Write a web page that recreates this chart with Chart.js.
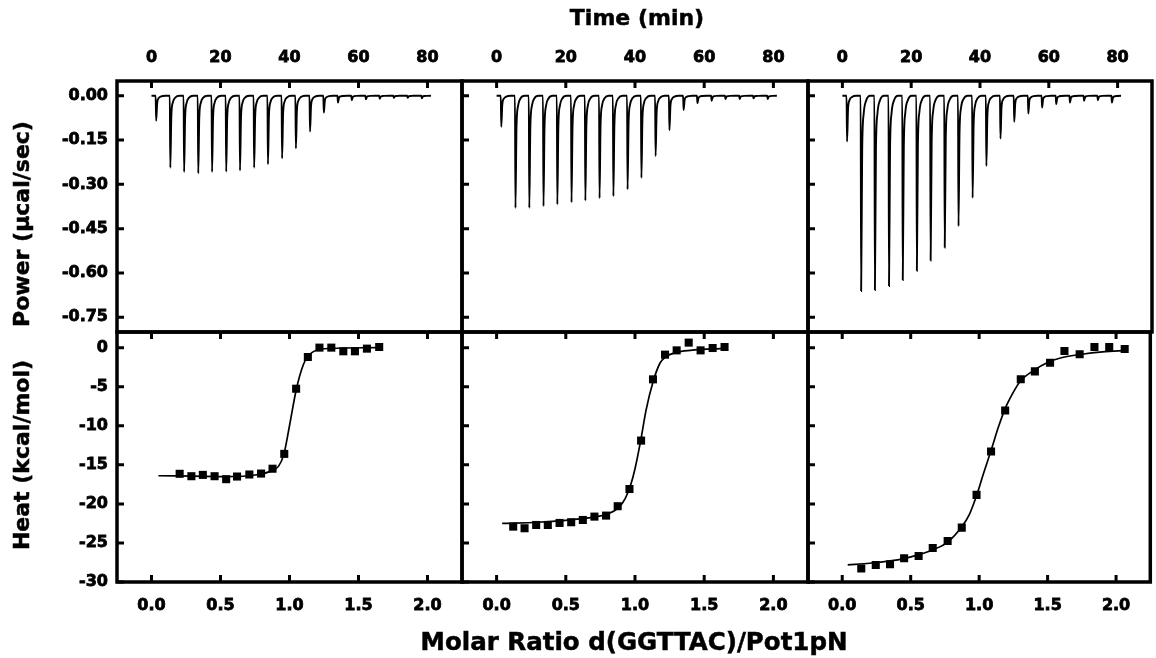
<!DOCTYPE html>
<html>
<head>
<meta charset="utf-8">
<script src="https://cdn.jsdelivr.net/npm/chart.js@4.4.0/dist/chart.umd.min.js"></script>
<style>
  html, body { margin:0; padding:0; background:#fff; width:1156px; height:658px; overflow:hidden; }
  #wrap { position:relative; width:1156px; height:658px; }
  canvas.panel { position:absolute; left:0; top:0; }
  .t { position:absolute; font-family:"DejaVu Sans", sans-serif; font-weight:bold; color:#000; white-space:nowrap; line-height:1; transform:translate(-50%,-50%); -webkit-text-stroke:0.5px #000; }
  .rot { transform:translate(-50%,-50%) rotate(-90deg); }
</style>
</head>
<body>
<div id="wrap">
  <canvas class="panel" id="p0" width="1156" height="658"></canvas>
  <canvas class="panel" id="p1" width="1156" height="658"></canvas>
  <canvas class="panel" id="p2" width="1156" height="658"></canvas>
  <canvas class="panel" id="p3" width="1156" height="658"></canvas>
  <canvas class="panel" id="p4" width="1156" height="658"></canvas>
  <canvas class="panel" id="p5" width="1156" height="658"></canvas>
  <div class="t" style="left:637px; top:18px; font-size:22px;">Time (min)</div>
  <div class="t" style="left:634px; top:642px; font-size:24.5px;">Molar Ratio d(GGTTAC)/Pot1pN</div>
  <div class="t rot" style="left:22px; top:224px; font-size:22px;">Power (µcal/sec)</div>
  <div class="t rot" style="left:22px; top:455px; font-size:22px;">Heat (kcal/mol)</div>
</div>
<script>
// ---------- tick labels ----------
const timeTicks  = [0, 20, 40, 60, 80];
const powerTicks = [0, -0.15, -0.30, -0.45, -0.60, -0.75];
const ratioTicks = [0, 0.5, 1.0, 1.5, 2.0];
const heatTicks  = [0, -5, -10, -15, -20, -25, -30];

// ---------- raw ITC traces (injection times in min, peak minima in µcal/sec) ----------
const injectionTimes = [1.2, 5.3, 9.3, 13.4, 17.4, 21.5, 25.5, 29.6, 33.6, 37.7, 41.7, 45.8, 49.8, 53.9, 57.9, 62.0, 66.0, 70.1, 74.1, 78.2];
const traceEnd = 81;
const peaksA = [-0.085, -0.244, -0.258, -0.263, -0.258, -0.257, -0.253, -0.244, -0.232, -0.212, -0.178, -0.121, -0.057, -0.023, -0.015, -0.012, -0.010, -0.007, -0.007, -0.009];
const peaksB = [-0.105, -0.380, -0.380, -0.374, -0.368, -0.361, -0.355, -0.347, -0.340, -0.317, -0.278, -0.204, -0.117, -0.048, -0.025, -0.017, -0.011, -0.011, -0.009, -0.011];
const peaksC = [-0.155, -0.661, -0.658, -0.644, -0.624, -0.593, -0.558, -0.514, -0.442, -0.346, -0.238, -0.145, -0.088, -0.060, -0.040, -0.028, -0.023, -0.017, -0.015, -0.023];
// peak outline: time offset after injection (min) and share of the peak minimum
const peakOffsets   = [0, 0.15, 0.45, 0.9, 1.6, 2.8];
const peakFractions = [0, 1, 0.28, 0.09, 0.025, 0];

// ---------- integrated heats (molar ratio, kcal/mol) ----------
const ratioA = [0.204, 0.289, 0.372, 0.457, 0.541, 0.620, 0.709, 0.794, 0.877, 0.962, 1.048, 1.133, 1.217, 1.303, 1.390, 1.474, 1.561, 1.650];
const heatA  = [-16.15, -16.46, -16.29, -16.46, -16.84, -16.50, -16.24, -16.12, -15.50, -13.60, -5.26, -1.20, 0.00, 0.00, -0.47, -0.47, -0.13, 0.08];
const ratioB = [0.120, 0.202, 0.286, 0.370, 0.455, 0.539, 0.623, 0.707, 0.791, 0.875, 0.960, 1.044, 1.130, 1.217, 1.301, 1.388, 1.474, 1.561, 1.647];
const heatB  = [-22.91, -23.12, -22.70, -22.70, -22.44, -22.35, -22.06, -21.63, -21.50, -20.30, -18.10, -11.90, -4.06, -0.90, -0.35, 0.64, -0.35, -0.05, 0.08];
const ratioC = [0.139, 0.245, 0.349, 0.452, 0.558, 0.661, 0.770, 0.873, 0.981, 1.087, 1.190, 1.304, 1.407, 1.518, 1.623, 1.734, 1.842, 1.950, 2.063];
const heatC  = [-28.26, -27.82, -27.74, -26.97, -26.67, -25.64, -24.75, -23.04, -18.85, -13.29, -8.04, -4.06, -3.04, -1.93, -0.43, -0.86, 0.08, 0.08, -0.17];

// ---------- fitted curves ----------
const fitRatioA = [0.05, 0.30, 0.55, 0.75, 0.85, 0.92, 0.96, 1.00, 1.05, 1.10, 1.13, 1.20, 1.30, 1.65];
const fitHeatA  = [-16.4, -16.45, -16.5, -16.3, -15.9, -15.2, -13.6, -10.0, -5.3, -2.2, -1.2, -0.3, -0.1, 0.0];
const fitRatioB = [0.04, 0.30, 0.50, 0.70, 0.80, 0.88, 0.93, 0.97, 1.00, 1.04, 1.08, 1.13, 1.18, 1.22, 1.30, 1.40, 1.65];
const fitHeatB  = [-22.5, -22.35, -22.1, -21.7, -21.3, -20.5, -19.3, -17.5, -15.5, -12.0, -8.0, -4.4, -2.0, -1.2, -0.6, -0.35, -0.1];
const fitRatioC = [0.04, 0.20, 0.35, 0.45, 0.56, 0.66, 0.77, 0.87, 0.93, 0.98, 1.03, 1.09, 1.14, 1.19, 1.25, 1.30, 1.40, 1.50, 1.60, 1.75, 1.90, 2.08];
const fitHeatC  = [-27.8, -27.6, -27.3, -27.0, -26.5, -25.9, -24.9, -23.0, -21.3, -19.0, -16.2, -13.0, -10.2, -7.8, -5.7, -4.3, -2.9, -1.9, -1.3, -0.85, -0.55, -0.35];

// ---------- build tables ----------
function traceTable(peaks) {
  const pts = [{x: 0, y: 0}];
  injectionTimes.forEach((t, i) => {
    peakOffsets.forEach((o, k) => pts.push({x: t + o, y: peaks[i] * peakFractions[k]}));
  });
  pts.push({x: traceEnd, y: 0});
  return pts;
}
const pairs = (xs, ys) => xs.map((x, i) => ({x, y: ys[i]}));

// ---------- layout ----------
const colX = [117, 462, 808, 1152];
const rowY = [81, 332, 582];
const W = 1156, H = 658;

Chart.defaults.font.family = '"DejaVu Sans", sans-serif';
Chart.defaults.font.weight = 'bold';
Chart.defaults.font.size = 16;
Chart.defaults.color = '#000';

const framePlugin = {
  id: 'frame',
  afterDraw(chart, args, opts) {
    const {ctx, chartArea: a, scales} = chart;
    const L = 7;
    ctx.save();
    ctx.strokeStyle = '#000';
    ctx.lineWidth = 3;
    ctx.beginPath();
    scales.x.ticks.forEach(t => {
      const px = scales.x.getPixelForValue(t.value);
      ctx.moveTo(px, a.top); ctx.lineTo(px, a.top + L);
      if (opts.bottomTicks) { ctx.moveTo(px, a.bottom); ctx.lineTo(px, a.bottom - L); }
    });
    scales.y.ticks.forEach(t => {
      const py = scales.y.getPixelForValue(t.value);
      ctx.moveTo(a.left, py); ctx.lineTo(a.left + L, py);
    });
    ctx.stroke();
    ctx.lineWidth = 3.5;
    ctx.strokeRect(a.left, a.top, a.right - a.left, a.bottom - a.top);
    ctx.restore();
  }
};

function makePanel(id, row, col, datasets) {
  const top = rowY[row], bottom = rowY[row + 1];
  const left = colX[col], right = colX[col + 1];
  const yW = col === 0 ? 60 : 0;
  const xH = 50;
  const isTop = row === 0;
  const xTicks = isTop ? timeTicks : ratioTicks;
  const yTicks = isTop ? powerTicks : heatTicks;
  new Chart(document.getElementById(id), {
    type: 'scatter',
    data: { datasets },
    options: {
      responsive: false,
      animation: false,
      events: [],
      layout: { padding: {
        left: left - yW,
        right: W - right,
        top: isTop ? top - xH : top,
        bottom: isTop ? H - bottom : H - bottom - xH
      }},
      plugins: { legend: {display: false}, tooltip: {enabled: false}, frame: { bottomTicks: !isTop } },
      scales: {
        x: {
          type: 'linear',
          position: isTop ? 'top' : 'bottom',
          min: isTop ? -10 : -0.25,
          max: isTop ? 90 : 2.25,
          grid: { display: false, drawTicks: false },
          border: { display: false },
          afterBuildTicks: s => { s.ticks = xTicks.map(v => ({value: v})); },
          afterFit: s => { s.height = xH; },
          ticks: {
            autoSkip: false, maxRotation: 0,
            padding: 14,
            textStrokeColor: '#000', textStrokeWidth: 0.8,
            callback: v => isTop ? String(v) : Number(v).toFixed(1)
          }
        },
        y: {
          type: 'linear',
          position: 'left',
          min: isTop ? -0.80 : -30,
          max: isTop ? 0.05 : 2,
          grid: { display: false, drawTicks: false },
          border: { display: false },
          afterBuildTicks: s => { s.ticks = yTicks.map(v => ({value: v})); },
          afterFit: s => { s.width = yW; },
          ticks: {
            display: col === 0,
            autoSkip: false,
            padding: 9,
            textStrokeColor: '#000', textStrokeWidth: 0.8,
            callback: v => isTop ? Number(v).toFixed(2) : String(v)
          }
        }
      }
    },
    plugins: [framePlugin]
  });
}

function traceSet(peaks) {
  return [{
    data: traceTable(peaks), showLine: true, borderColor: '#000', borderWidth: 1.9,
    pointRadius: 0, cubicInterpolationMode: 'monotone'
  }];
}
function heatSets(rx, hy, fx, fy) {
  return [
    { data: pairs(fx, fy), showLine: true, borderColor: '#000', borderWidth: 1.7, pointRadius: 0, cubicInterpolationMode: 'monotone' },
    { data: pairs(rx, hy), showLine: false, pointStyle: 'rect', pointRadius: 5.7, backgroundColor: '#000', borderColor: '#000', borderWidth: 0 }
  ];
}

makePanel('p0', 0, 0, traceSet(peaksA));
makePanel('p1', 0, 1, traceSet(peaksB));
makePanel('p2', 0, 2, traceSet(peaksC));
makePanel('p3', 1, 0, heatSets(ratioA, heatA, fitRatioA, fitHeatA));
makePanel('p4', 1, 1, heatSets(ratioB, heatB, fitRatioB, fitHeatB));
makePanel('p5', 1, 2, heatSets(ratioC, heatC, fitRatioC, fitHeatC));
</script>
</body>
</html>
